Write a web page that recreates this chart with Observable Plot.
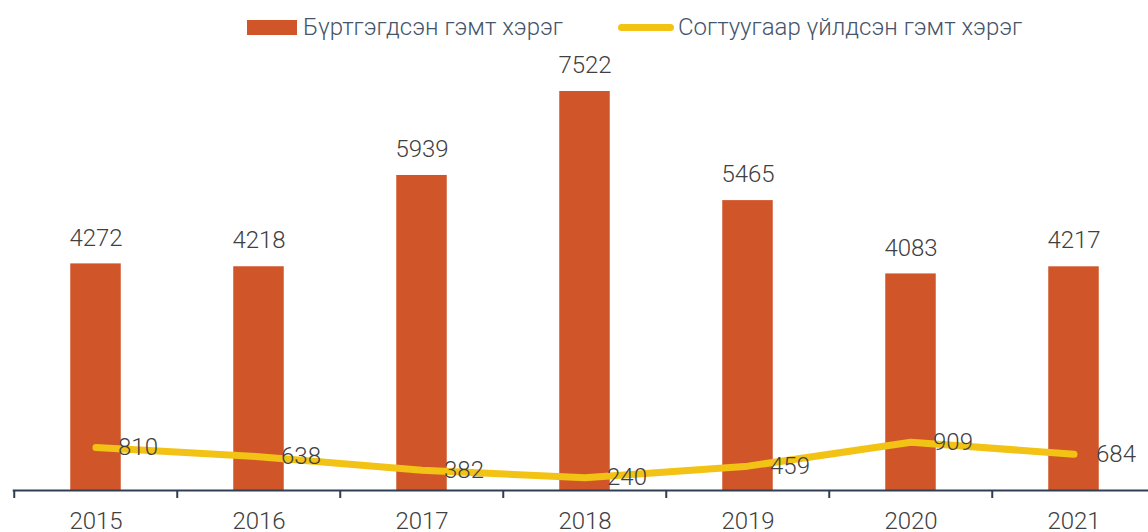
<!DOCTYPE html>
<html>
<head>
<meta charset="utf-8">
<script src="https://cdn.jsdelivr.net/npm/d3@7"></script>
<script src="https://cdn.jsdelivr.net/npm/@observablehq/plot@0.6"></script>
<style>
  html, body { margin: 0; padding: 0; background: #fff; overflow: hidden; }
  body { width: 1148px; height: 532px; position: relative; font-family: Roboto, "Noto Sans", sans-serif; }
  #legend { position: absolute; top: 0; left: 0; width: 1148px; height: 55px; z-index: 2; font-weight: 300; font-size: 24px; color: #44546A; }
  .sw { position: absolute; }
  .lt { position: absolute; top: 12px; line-height: 30px; white-space: nowrap; }
  #chart { position: absolute; top: 0; left: 0; width: 1158px; height: 532px; }
  #chart svg { max-width: none !important; }
</style>
</head>
<body>
<div id="legend">
  <div class="sw" style="left:247px;top:20px;width:50px;height:15px;background:#D0562A"></div>
  <div class="lt" style="left:303px">Бүртгэгдсэн гэмт хэрэг</div>
  <div class="sw" style="left:618px;top:24px;width:56px;height:7px;border-radius:4px;background:#F2C314"></div>
  <div class="lt" style="left:678px">Согтуугаар үйлдсэн гэмт хэрэг</div>
</div>
<div id="chart"></div>
<script>
const years = ["2015", "2016", "2017", "2018", "2019", "2020", "2021"];
const registered = [4272, 4218, 5939, 7522, 5465, 4083, 4217];
const drunk = [810, 638, 382, 240, 459, 909, 684];

const data = years.map((y, i) => ({year: y, registered: registered[i], drunk: drunk[i]}));

const step = 163.5;
const chart = Plot.plot({
  width: 1158,
  height: 532,
  marginLeft: 12.7,
  marginRight: 0.8,
  marginTop: 65.64,
  marginBottom: 42,
  style: {fontFamily: "Roboto, 'Noto Sans', sans-serif", background: "transparent", maxWidth: "none"},
  x: {domain: years, padding: 0, axis: null, label: null},
  y: {domain: [0, 8000], axis: null},
  marks: [
    Plot.barY(data, {x: "year", y: "registered", fill: "#D0562A", insetLeft: 56.25, insetRight: 56.25}),
    Plot.text(data, {x: "year", y: "registered", text: d => String(d.registered), dy: -26, lineAnchor: "middle", fontSize: 24, fontWeight: 300, fill: "#404040"}),
    Plot.lineY(data, {x: "year", y: "drunk", stroke: "#F2C314", strokeWidth: 7, strokeLinecap: "round", strokeLinejoin: "round"}),
    Plot.text(data, {x: "year", y: "drunk", text: d => String(d.drunk), dx: 22, textAnchor: "start", lineAnchor: "middle", fontSize: 24, fontWeight: 300, fill: "#404040"}),
    Plot.ruleY([0], {stroke: "#2F3E52", strokeWidth: 2}),
    Plot.axisX({tickSize: 8, tickFormat: () => "", label: null, dx: -step / 2, stroke: "#2F3E52", strokeWidth: 2}),
    Plot.axisX({tickSize: 0, tickPadding: 21, label: null, fontSize: 24, fontWeight: 300, fill: "#404040"})
  ]
});
document.getElementById("chart").appendChild(chart);
</script>
</body>
</html>
